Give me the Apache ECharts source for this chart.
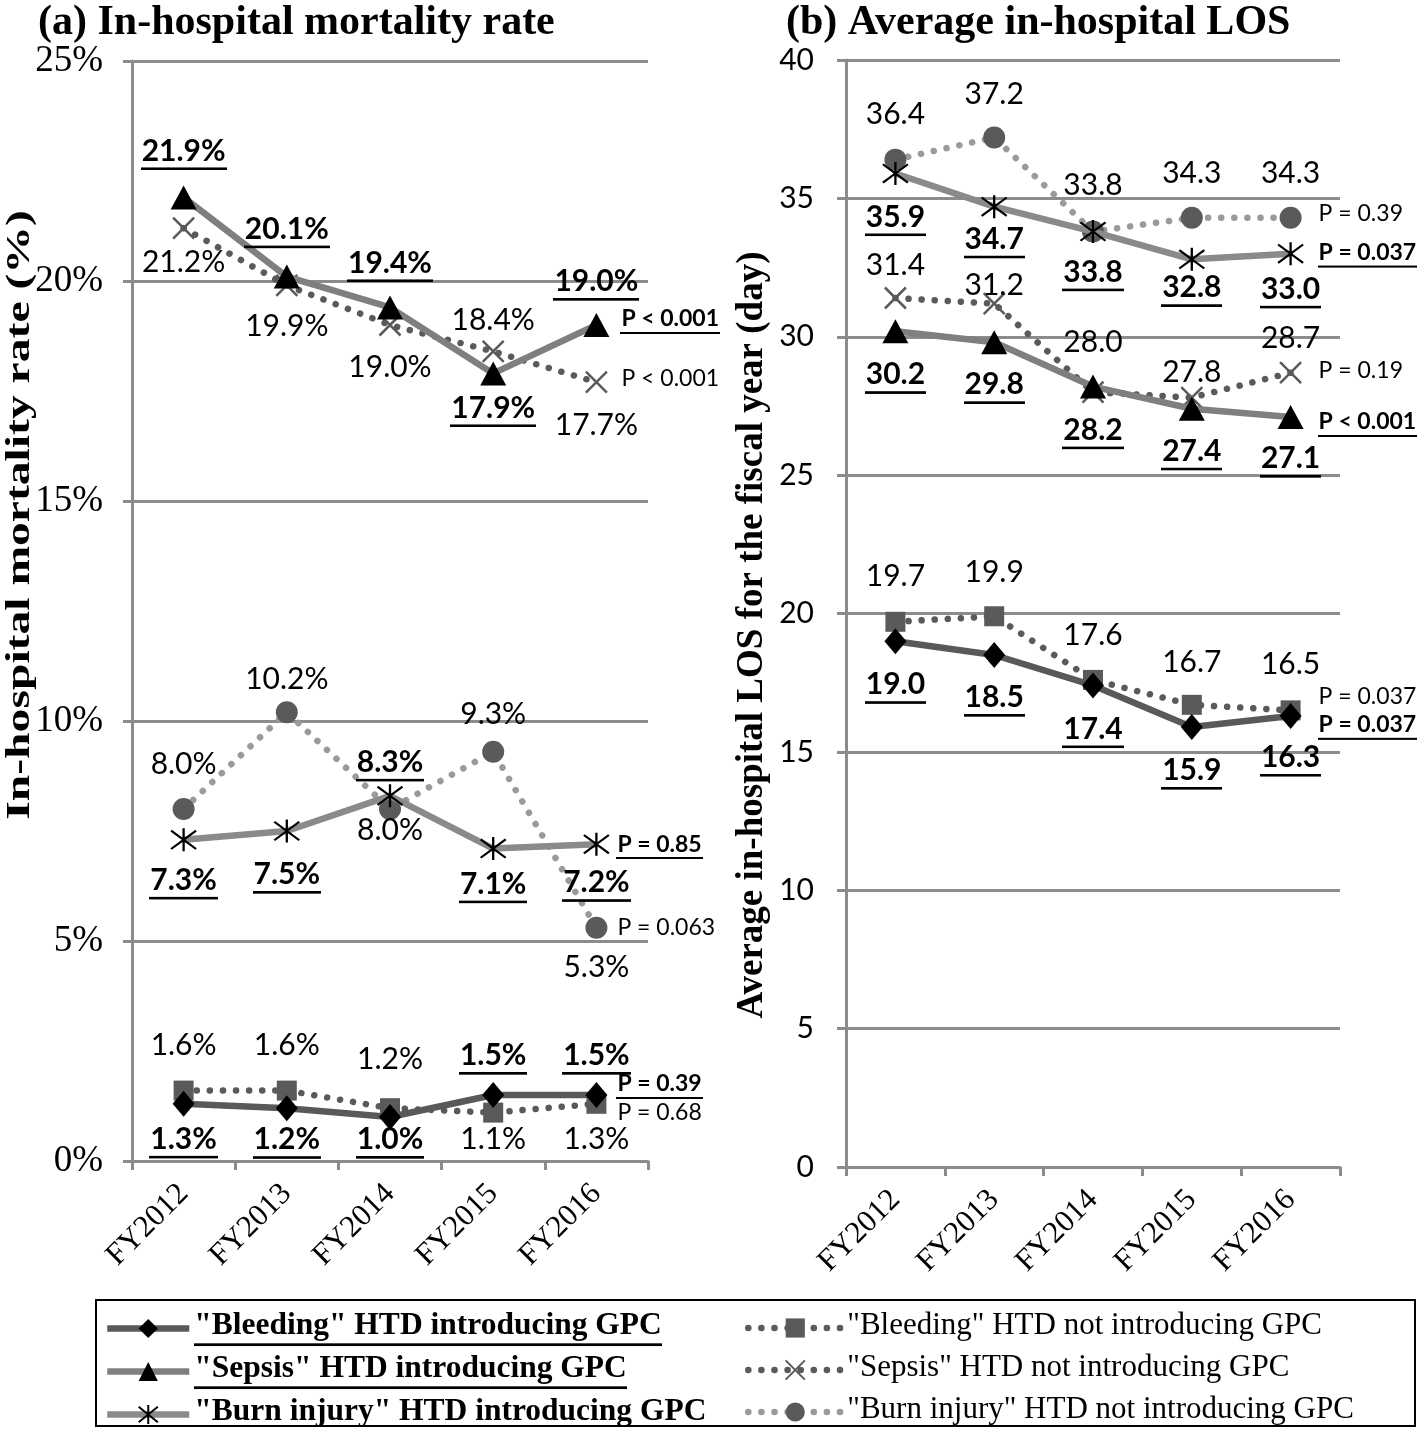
<!DOCTYPE html>
<html><head><meta charset="utf-8">
<script src="https://cdn.jsdelivr.net/npm/echarts@6/dist/echarts.min.js"></script>
<style>html,body{margin:0;padding:0;background:#fff}#c{width:1418px;height:1429px}</style>
</head><body><div id="c"></div>
<script>
// ---------- DATA ----------
const categories = ['FY2012', 'FY2013', 'FY2014', 'FY2015', 'FY2016'];
// (a) In-hospital mortality rate (%)
const mortBleedIntro = [1.3, 1.2, 1.0, 1.5, 1.5];
const mortBleedNot = [1.6, 1.6, 1.2, 1.1, 1.3];
const mortSepsisIntro = [21.9, 20.1, 19.4, 17.9, 19.0];
const mortSepsisNot = [21.2, 19.9, 19.0, 18.4, 17.7];
const mortBurnIntro = [7.3, 7.5, 8.3, 7.1, 7.2];
const mortBurnNot = [8.0, 10.2, 8.0, 9.3, 5.3];
// (b) Average in-hospital LOS (day)
const losBleedIntro = [19.0, 18.5, 17.4, 15.9, 16.3];
const losBleedNot = [19.7, 19.9, 17.6, 16.7, 16.5];
const losSepsisIntro = [30.2, 29.8, 28.2, 27.4, 27.1];
const losSepsisNot = [31.4, 31.2, 28.0, 27.8, 28.7];
const losBurnIntro = [35.9, 34.7, 33.8, 32.8, 33.0];
const losBurnNot = [36.4, 37.2, 33.8, 34.3, 34.3];
// P values
const mortPValues = { bleedIntro: 'P = 0.39', bleedNot: 'P = 0.68', sepsisIntro: 'P < 0.001', sepsisNot: 'P < 0.001', burnIntro: 'P = 0.85', burnNot: 'P = 0.063' };
const losPValues = { bleedIntro: 'P = 0.037', bleedNot: 'P = 0.037', sepsisIntro: 'P < 0.001', sepsisNot: 'P = 0.19', burnIntro: 'P = 0.037', burnNot: 'P = 0.39' };
// axis ticks
const mortTicks = [0, 5, 10, 15, 20, 25];
const losTicks = [0, 5, 10, 15, 20, 25, 30, 35, 40];

const seriesNames = {
  bleedIntro: '"Bleeding" HTD introducing GPC',
  sepsisIntro: '"Sepsis" HTD introducing GPC',
  burnIntro: '"Burn injury" HTD introducing GPC',
  bleedNot: '"Bleeding" HTD not introducing GPC',
  sepsisNot: '"Sepsis" HTD not introducing GPC',
  burnNot: '"Burn injury" HTD not introducing GPC'
};

// ---------- LAYOUT (label offsets, styles) ----------
const mortDy = {
  bleedIntro: [38, 34, 25, -37, -37], bleedNot: [-43, -43, -46, 29, 38],
  sepsisIntro: [-44, -45, -42, 37, -41], sepsisNot: [37, 43, 45, -29, 46],
  burnIntro: [43, 46, -31, 38, 41], burnNot: [-42, -30, 24, -35, 42]
};
const losDy = {
  bleedIntro: [46, 45, 46, 46, 44], bleedNot: [-43, -41, -42, -40, -44],
  sepsisIntro: [46, 45, 46, 45, 44], sepsisNot: [-30, -16, -47, -23, -32],
  burnIntro: [46, 35, 43, 31, 38], burnNot: [-43, -41, -44, -42, -42]
};
const mortPOff = { bleedIntro: [20, -9], bleedNot: [20, 11], sepsisIntro: [24, -4], sepsisNot: [24, -2], burnIntro: [20, 2], burnNot: [20, 2] };
const losPOff = { bleedIntro: [27, 11], bleedNot: [27, -12], sepsisIntro: [27, 7], sepsisNot: [27, 0], burnIntro: [27, 1], burnNot: [27, -2] };

const SERIF = 'Liberation Serif';
const SANS = 'Lato';
const ASTER = 'path://M0,2L20,18M20,2L0,18M10,0L10,20';
const XMARK = 'path://M0,0L20,20M20,0L0,20';
const styles = {
  bleedIntro: { symbol: 'diamond', size: [22, 26], fill: '#000', line: '#595959', dotted: false, bold: true },
  sepsisIntro: { symbol: 'triangle', size: [26, 24], fill: '#000', line: '#7f7f7f', dotted: false, bold: true },
  burnIntro: { symbol: ASTER, size: [25, 23], fill: '#000', line: '#8a8a8a', dotted: false, bold: true, stroke: 2.2 },
  bleedNot: { symbol: 'rect', size: [20, 20], fill: '#5a5a5a', line: '#5a5a5a', dotted: true, bold: false },
  sepsisNot: { symbol: XMARK, size: [21, 21], fill: '#5a5a5a', line: '#5a5a5a', dotted: true, bold: false, stroke: 2.5 },
  burnNot: { symbol: 'circle', size: [22, 22], fill: '#5a5a5a', line: '#9a9a9a', dotted: true, bold: false }
};

// underline image used as rich-text background
const UL = (function () {
  const c = document.createElement('canvas'); c.width = 4; c.height = 40;
  const g = c.getContext('2d'); g.fillStyle = '#000'; g.fillRect(0, 36, 4, 3); return c;
})();

const rich = {
  b: { fontFamily: SANS, fontWeight: 'bold', fontSize: 30, color: '#000', lineHeight: 31, padding: [0, 1, 5, 1], backgroundColor: { image: UL } },
  n: { fontFamily: SANS, fontSize: 30, color: '#000', lineHeight: 31, padding: [0, 1, 5, 1] },
  pb: { fontFamily: SANS, fontWeight: 'bold', fontSize: 23, color: '#000', lineHeight: 26, padding: [0, 1, 4, 1], backgroundColor: { image: UL } },
  pn: { fontFamily: SANS, fontSize: 23, color: '#000', lineHeight: 26, padding: [0, 1, 4, 1] }
};

function makeSeries(key, values, dys, pText, pOff, gridIdx, pct) {
  const st = styles[key];
  const tag = st.bold ? 'b' : 'n';
  return {
    name: seriesNames[key],
    type: 'line',
    xAxisIndex: gridIdx, yAxisIndex: gridIdx,
    data: values.map((v, i) => ({ value: v, label: { offset: [0, dys[i]] } })),
    symbol: st.symbol,
    symbolSize: st.size,
    itemStyle: { color: st.fill, borderColor: st.fill, borderWidth: st.stroke || 0 },
    lineStyle: st.dotted ? { color: st.line, width: 6.5, type: [0.1, 13], cap: 'round' } : { color: st.line, width: 6.5 },
    label: {
      show: true, position: 'inside', rich: rich,
      formatter: p => '{' + tag + '|' + p.value.toFixed(1) + (pct ? '%' : '') + '}'
    },
    markPoint: {
      symbol: 'circle', symbolSize: 1, itemStyle: { color: 'rgba(0,0,0,0)' },
      data: [{ coord: [categories[4], values[4]], value: values[4] }],
      label: {
        show: true, position: 'inside', align: 'left', offset: pOff, rich: rich,
        formatter: '{' + (st.bold ? 'pb' : 'pn') + '|' + pText + '}'
      }
    },
    z: st.dotted ? 2 : 3
  };
}

const keys = ['bleedIntro', 'sepsisIntro', 'burnIntro', 'bleedNot', 'sepsisNot', 'burnNot'];
const mortData = { bleedIntro: mortBleedIntro, bleedNot: mortBleedNot, sepsisIntro: mortSepsisIntro, sepsisNot: mortSepsisNot, burnIntro: mortBurnIntro, burnNot: mortBurnNot };
const losData = { bleedIntro: losBleedIntro, bleedNot: losBleedNot, sepsisIntro: losSepsisIntro, sepsisNot: losSepsisNot, burnIntro: losBurnIntro, burnNot: losBurnNot };

const series = [];
keys.forEach(k => series.push(makeSeries(k, mortData[k], mortDy[k], mortPValues[k], mortPOff[k], 0, true)));
keys.forEach(k => series.push(makeSeries(k, losData[k], losDy[k], losPValues[k], losPOff[k], 1, false)));

const axisGray = '#8c8c8c';
function xAxis(gridIndex) {
  return {
    type: 'category', gridIndex, data: categories, boundaryGap: true,
    axisLine: { lineStyle: { color: axisGray, width: 3 } },
    axisTick: { show: true, length: 9, lineStyle: { color: axisGray, width: 3 } },
    axisLabel: { rotate: 45, margin: 28, fontFamily: SERIF, fontSize: 31, color: '#000' }
  };
}
function yAxis(gridIndex, ticks, fmt, font) {
  return {
    type: 'value', gridIndex, min: ticks[0], max: ticks[ticks.length - 1], interval: ticks[1] - ticks[0],
    axisLine: { show: true, lineStyle: { color: axisGray, width: 3 } },
    axisTick: { show: true, length: 9, lineStyle: { color: axisGray, width: 3 } },
    splitLine: { show: true, lineStyle: { color: axisGray, width: 3 } },
    axisLabel: { margin: font === SERIF ? 29 : 32, fontFamily: font, fontSize: font === SERIF ? 37 : 30, color: '#000', formatter: fmt }
  };
}

function legendCfg(left, keysList, tag) {
  return {
    left: left, top: 1310, height: 125, padding: 0, orient: 'vertical', itemGap: 6, itemWidth: tag === 'lb' ? 82 : 94, itemHeight: 24,
    lineStyle: { width: 6.5 },
    data: keysList.map(k => seriesNames[k]),
    formatter: n => '{' + tag + '|' + n + '}',
    textStyle: {
      rich: {
        lb: { fontFamily: SERIF, fontWeight: 'bold', fontSize: 31.5, color: '#000', lineHeight: 30, padding: [0, 0, 5, 0], backgroundColor: { image: UL } },
        ln: { fontFamily: SERIF, fontSize: 31, color: '#000', lineHeight: 30, padding: [0, 0, 5, 0] }
      }
    }
  };
}

const option = {
  animation: false,
  backgroundColor: '#fff',
  title: [
    { text: '(a) In-hospital mortality rate', left: 33, top: -3, textStyle: { fontFamily: SERIF, fontWeight: 'bold', fontSize: 42, color: '#000' } },
    { text: '(b) Average in-hospital LOS', left: 781, top: -3, textStyle: { fontFamily: SERIF, fontWeight: 'bold', fontSize: 42, color: '#000' } }
  ],
  grid: [
    { left: 132, top: 61, width: 516, height: 1100 },
    { left: 846, top: 60, width: 494, height: 1107 }
  ],
  xAxis: [xAxis(0), xAxis(1)],
  yAxis: [yAxis(0, mortTicks, '{value}%', SERIF), yAxis(1, losTicks, '{value}', SANS)],
  legend: [
    legendCfg(104, ['bleedIntro', 'sepsisIntro', 'burnIntro'], 'lb'),
    legendCfg(745, ['bleedNot', 'sepsisNot', 'burnNot'], 'ln')
  ],
  graphic: [
    { type: 'rect', shape: { x: 96, y: 1300, width: 1319, height: 126 }, style: { fill: 'none', stroke: '#000', lineWidth: 2 }, silent: true },
    { type: 'text', x: 20, y: 515, rotation: Math.PI / 2, scaleX: 1.4, style: { text: 'In-hospital mortality rate (%)', x: 0, y: 0, align: 'center', verticalAlign: 'middle', fontFamily: SERIF, fontWeight: 'bold', fontSize: 34, fill: '#000' } },
    { type: 'text', x: 752, y: 635, rotation: Math.PI / 2, scaleX: 1.0, style: { text: 'Average in-hospital LOS for the fiscal year (day)', x: 0, y: 0, align: 'center', verticalAlign: 'middle', fontFamily: SERIF, fontWeight: 'bold', fontSize: 37, fill: '#000' } }
  ],
  series: series
};

const chart = echarts.init(document.getElementById('c'), null, { renderer: 'canvas' });
chart.setOption(option);
</script>
</body></html>
